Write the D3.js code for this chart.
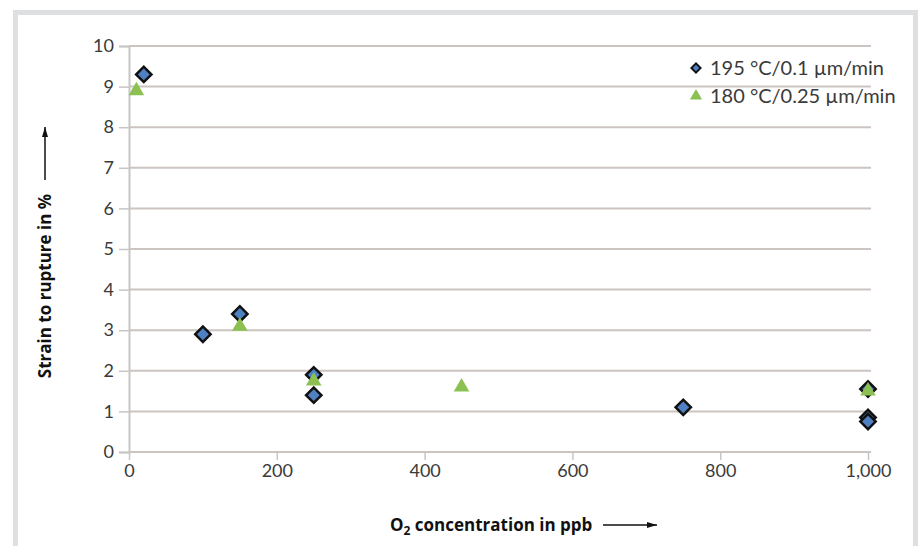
<!DOCTYPE html>
<html>
<head>
<meta charset="utf-8">
<script src="https://cdn.jsdelivr.net/npm/d3@7"></script>
<style>
  body { margin: 0; background: #fff; }
  text { font-family: Lato, "Open Sans", sans-serif; }
  .title { font-family: "Open Sans", Lato, sans-serif; }
</style>
</head>
<body>
<div id="chart"></div>
<script>
// data
const xTicks = [0, 200, 400, 600, 800, 1000];
const yTicks = [0, 1, 2, 3, 4, 5, 6, 7, 8, 9, 10];

const seriesNames = ["195 °C/0.1 µm/min", "180 °C/0.25 µm/min"];

const s1X = [20, 100, 150, 250, 250, 750, 1000, 1000, 1000];
const s1Y = [9.3, 2.9, 3.4, 1.9, 1.4, 1.1, 1.55, 0.85, 0.75];

const s2X = [10, 150, 250, 450, 1000];
const s2Y = [8.9, 3.1, 1.75, 1.6, 1.5];

const width = 923, height = 546;
const blue = "#4f81c2", green = "#8cc152", gridCol = "#cbc4c0", textCol = "#3a3a3a";

const svg = d3.select("#chart")
  .append("svg")
  .attr("width", width)
  .attr("height", height);

// light gray frame, open at the bottom
svg.append("path")
  .attr("d", "M15.5,546 V12.5 H915.5 V546")
  .attr("fill", "none")
  .attr("stroke", "#dedfe0")
  .attr("stroke-width", 5);

const x = d3.scaleLinear().domain([0, 1000]).range([129, 868]);
const y = d3.scaleLinear().domain([0, 10]).range([452, 46]);

// horizontal gridlines
svg.append("g")
  .selectAll("line")
  .data(yTicks)
  .join("line")
  .attr("x1", x(0))
  .attr("x2", 871)
  .attr("y1", d => y(d))
  .attr("y2", d => y(d))
  .attr("stroke", gridCol)
  .attr("stroke-width", 2);

// y axis
const yAxis = svg.append("g")
  .attr("transform", `translate(${x(0)},0)`)
  .call(d3.axisLeft(y).tickValues(yTicks).tickSize(10).tickPadding(5));
yAxis.select(".domain").attr("stroke", "#c6c6c6").attr("stroke-width", 2);
yAxis.selectAll(".tick line").attr("stroke", "#c6c6c6").attr("stroke-width", 1.5);
yAxis.selectAll(".tick text")
  .attr("fill", textCol)
  .style("font-size", "18px");

// x axis
const xAxis = svg.append("g")
  .attr("transform", `translate(0,${y(0)})`)
  .call(d3.axisBottom(x).tickValues(xTicks).tickFormat(d3.format(",")).tickSize(8).tickPadding(4));
xAxis.select(".domain").remove();
xAxis.selectAll(".tick line").attr("stroke", "#c6c6c6").attr("stroke-width", 1.5);
xAxis.selectAll(".tick text")
  .attr("fill", textCol)
  .style("font-size", "18px");

const diamond = d3.symbol().type(d3.symbolSquare).size(118);
const triangle = d3.symbol().type(d3.symbolTriangle).size(105);

// series 1: diamonds
svg.append("g")
  .selectAll("path")
  .data(s1X)
  .join("path")
  .attr("d", diamond)
  .attr("transform", (d, i) => `translate(${x(d)},${y(s1Y[i])}) rotate(45)`)
  .attr("fill", blue)
  .attr("stroke", "#111")
  .attr("stroke-width", 2.5);

// series 2: triangles
svg.append("g")
  .selectAll("path")
  .data(s2X)
  .join("path")
  .attr("d", triangle)
  .attr("transform", (d, i) => `translate(${x(d)},${y(s2Y[i])})`)
  .attr("fill", green);

// legend
const legend = svg.append("g").attr("transform", "translate(696,68)");
legend.append("path")
  .attr("d", d3.symbol().type(d3.symbolSquare).size(42))
  .attr("transform", "rotate(45)")
  .attr("fill", blue)
  .attr("stroke", "#111")
  .attr("stroke-width", 2);
legend.append("path")
  .attr("d", d3.symbol().type(d3.symbolTriangle).size(64))
  .attr("transform", "translate(0,28)")
  .attr("fill", green);
legend.selectAll("text")
  .data(seriesNames)
  .join("text")
  .attr("x", 14)
  .attr("y", (d, i) => i * 28)
  .attr("dy", "0.35em")
  .attr("fill", textCol)
  .style("font-size", "20px")
  .text(d => d);

// axis titles
const yTitle = svg.append("g").attr("transform", "translate(45,286) rotate(-90)");
yTitle.append("text")
  .attr("class", "title")
  .attr("text-anchor", "middle")
  .attr("dy", "0.35em")
  .attr("fill", "#111")
  .style("font-size", "17px")
  .style("font-weight", "bold")
  .text("Strain to rupture in %");

const xTitle = svg.append("text")
  .attr("class", "title")
  .attr("x", 390)
  .attr("y", 525)
  .attr("dy", "0.35em")
  .attr("fill", "#111")
  .style("font-size", "17px")
  .style("font-weight", "bold");
xTitle.append("tspan").text("O");
xTitle.append("tspan").attr("dy", 4).style("font-size", "12px").text("2");
xTitle.append("tspan").attr("dy", -4).text(" concentration in ppb");

// arrows
svg.append("defs").append("marker")
  .attr("id", "head")
  .attr("viewBox", "0 0 10 6")
  .attr("refX", 10).attr("refY", 3)
  .attr("markerWidth", 11).attr("markerHeight", 6)
  .attr("markerUnits", "userSpaceOnUse")
  .attr("orient", "auto")
  .append("path")
  .attr("d", "M0,0 L10,3 L0,6 Z")
  .attr("fill", "#111");

svg.append("line")
  .attr("x1", 45).attr("x2", 45)
  .attr("y1", 180).attr("y2", 127)
  .attr("stroke", "#111").attr("stroke-width", 1.5)
  .attr("marker-end", "url(#head)");

svg.append("line")
  .attr("x1", 603).attr("x2", 657)
  .attr("y1", 525).attr("y2", 525)
  .attr("stroke", "#111").attr("stroke-width", 1.5)
  .attr("marker-end", "url(#head)");
</script>
</body>
</html>
